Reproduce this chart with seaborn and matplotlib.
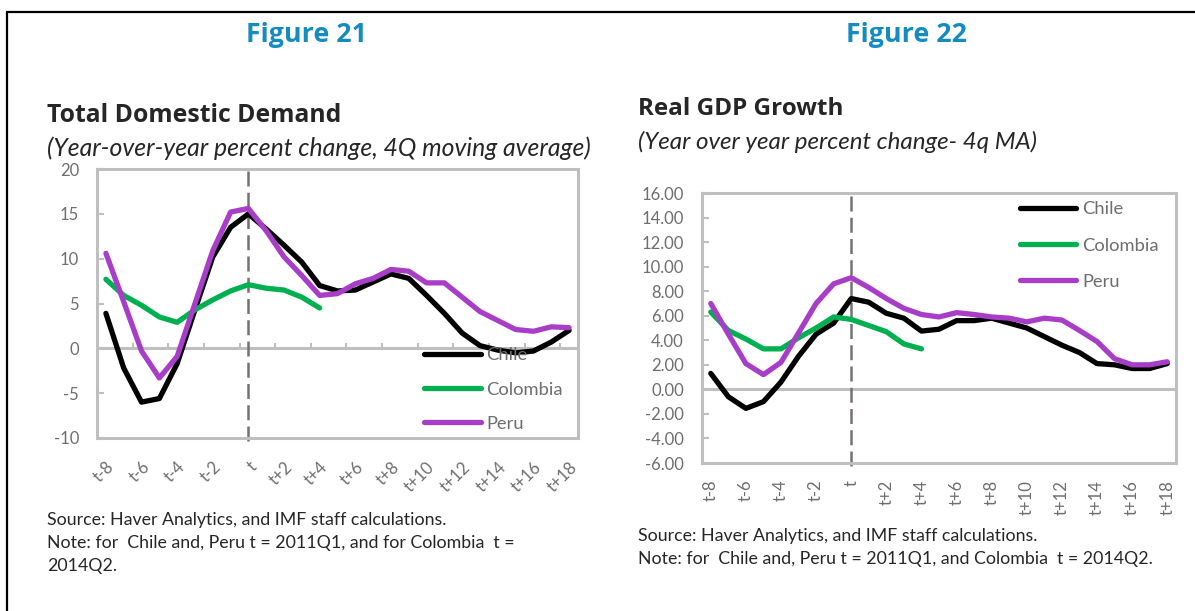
import matplotlib
matplotlib.use("Agg")
import matplotlib.pyplot as plt
from matplotlib.lines import Line2D
import numpy as np
import seaborn as sns

periods = ['t-8', 't-7', 't-6', 't-5', 't-4', 't-3', 't-2', 't-1', 't',
           't+1', 't+2', 't+3', 't+4', 't+5', 't+6', 't+7', 't+8', 't+9',
           't+10', 't+11', 't+12', 't+13', 't+14', 't+15', 't+16', 't+17', 't+18']

# Figure 21 - total domestic demand
chile_tdd = [3.9, -2.2, -6.0, -5.6, -1.7, 4.3, 10.2, 13.5, 15.0, 13.3, 11.5, 9.6, 7.0,
             6.4, 6.5, 7.4, 8.3, 7.8, 5.9, 3.9, 1.7, 0.3, -0.2, -0.5, -0.3, 0.7, 2.0]
colombia_tdd = [7.7, 5.9, 4.8, 3.5, 2.9, 4.3, 5.4, 6.4, 7.1, 6.7, 6.5, 5.7, 4.5]
peru_tdd = [10.6, 5.2, -0.3, -3.3, -0.9, 5.0, 10.9, 15.2, 15.6, 13.1, 10.2, 8.1, 5.9,
            6.1, 7.2, 7.8, 8.8, 8.6, 7.3, 7.3, 5.7, 4.1, 3.1, 2.1, 1.9, 2.4, 2.3]

# Figure 22 - real GDP growth
chile_gdp = [1.3, -0.6, -1.55, -1.0, 0.6, 2.7, 4.5, 5.4, 7.4, 7.1, 6.2, 5.8, 4.75,
             4.9, 5.6, 5.6, 5.8, 5.4, 5.0, 4.3, 3.6, 3.0, 2.1, 2.0, 1.7, 1.7, 2.1]
colombia_gdp = [6.3, 4.8, 4.1, 3.3, 3.3, 4.2, 5.0, 5.9, 5.7, 5.2, 4.7, 3.7, 3.3]
peru_gdp = [7.0, 4.5, 2.1, 1.2, 2.2, 4.6, 7.0, 8.6, 9.1, 8.3, 7.4, 6.6, 6.1,
            5.9, 6.25, 6.1, 5.9, 5.8, 5.5, 5.8, 5.65, 4.8, 3.9, 2.5, 2.0, 2.0, 2.25]

countries = ['Chile', 'Colombia', 'Peru']
colors = {'Chile': '#000000', 'Colombia': '#00B050', 'Peru': '#A83EC8'}

sns.set_style('white')
plt.rcParams['font.family'] = ['Lato', 'DejaVu Sans']

GRAY = '#BFBFBF'
TXT = '#6E6E6E'

fig = plt.figure(figsize=(11.95, 6.11), dpi=100)
W, H = 1195, 611


def px_axes(x0, y0, x1, y1):
    return fig.add_axes([x0 / W, 1 - y1 / H, (x1 - x0) / W, (y1 - y0) / H])


def draw(ax, series, ylim, step, fmt, leg_anchor, spacing):
    for name, vals in zip(countries, series):
        sns.lineplot(x=np.arange(len(vals)), y=vals, ax=ax, color=colors[name],
                     lw=3.8, label=name, solid_capstyle='round', solid_joinstyle='round')
    ax.set_xlim(-0.5, len(periods) - 0.5)
    ax.set_ylim(*ylim)
    ax.set_yticks(np.arange(ylim[0], ylim[1] + step / 2, step))
    ax.yaxis.set_major_formatter(matplotlib.ticker.FormatStrFormatter(fmt))
    pos = np.arange(0, len(periods), 2)
    ax.set_xticks(pos)
    ax.set_xticklabels([periods[i] for i in pos])
    for s in ax.spines.values():
        s.set_color(GRAY)
        s.set_linewidth(2.2)
    ax.axhline(0, color=GRAY, lw=2.2, zorder=1)
    ax.axvline(periods.index('t'), ymin=-0.01, ymax=1.0, color='#767171', lw=1.8,
               dashes=(6, 2.5), clip_on=False, zorder=1)
    ax.tick_params(axis='y', direction='in', length=5, width=1.5, color=GRAY,
                   labelsize=12, labelcolor=TXT, pad=13, left=True)
    ax.tick_params(axis='x', length=0, labelsize=12, labelcolor=TXT)
    ax.set_xlabel('')
    ax.set_ylabel('')
    leg = ax.legend(loc='center left', bbox_to_anchor=leg_anchor, frameon=False,
                    fontsize=13.2, handlelength=3.1, handletextpad=0.3,
                    labelspacing=spacing, borderpad=0, borderaxespad=0)
    for t in leg.get_texts():
        t.set_color(TXT)
    for l in leg.get_lines():
        l.set_linewidth(3.8)


ax1 = px_axes(97, 169, 578, 438)
draw(ax1, [chile_tdd, colombia_tdd, peru_tdd], (-10, 20), 5, '%d', (0.68, 0.18), 1.0)
ax1.vlines(np.arange(1.5, len(periods) - 1, 2), 0, 0.6, color=GRAY, lw=1.5, zorder=1)
for lab in ax1.get_xticklabels():
    lab.set_rotation(45)
    lab.set_ha('right')
    lab.set_va('top')
    lab.set_rotation_mode('anchor')
ax1.tick_params(axis='x', pad=15)

ax2 = px_axes(702, 193, 1176, 463)
draw(ax2, [chile_gdp, colombia_gdp, peru_gdp], (-6, 16), 2, '%.2f', (0.67, 0.805), 1.1)
for lab in ax2.get_xticklabels():
    lab.set_rotation(90)
ax2.tick_params(axis='x', pad=12)

blue = '#168BC0'
head = ['Open Sans', 'DejaVu Sans']
fig.text(306 / W, 1 - 35 / H, 'Figure 21', ha='center', va='center', color=blue,
         fontsize=19.3, fontweight='bold', family=head)
fig.text(906 / W, 1 - 35 / H, 'Figure 22', ha='center', va='center', color=blue,
         fontsize=19.3, fontweight='bold', family=head)

fig.text(47 / W, 1 - 115 / H, 'Total Domestic Demand', ha='left', va='center',
         fontsize=17.8, fontweight='bold', family=head)
fig.text(47 / W, 1 - 148 / H, '(Year-over-year percent change, 4Q moving average)',
         ha='left', va='center', fontsize=17.8, style='italic')
fig.text(638 / W, 1 - 109 / H, 'Real GDP Growth', ha='left', va='center',
         fontsize=17.5, fontweight='bold', family=head)
fig.text(638 / W, 1 - 142 / H, '(Year over year percent change- 4q MA)',
         ha='left', va='center', fontsize=17.4, style='italic')

fs = 12.8
fig.text(47 / W, 1 - 520 / H, 'Source: Haver Analytics, and IMF staff calculations.',
         ha='left', va='center', fontsize=fs)
fig.text(47 / W, 1 - 543 / H, 'Note: for  Chile and, Peru t = 2011Q1, and for Colombia  t =',
         ha='left', va='center', fontsize=fs)
fig.text(47 / W, 1 - 566 / H, '2014Q2.', ha='left', va='center', fontsize=fs)
fig.text(638 / W, 1 - 536 / H, 'Source: Haver Analytics, and IMF staff calculations.',
         ha='left', va='center', fontsize=fs)
fig.text(638 / W, 1 - 559 / H, 'Note: for  Chile and, Peru t = 2011Q1, and Colombia  t = 2014Q2.',
         ha='left', va='center', fontsize=fs)

# outer frame (top and left edges only)
fig.add_artist(Line2D([7 / W, 1], [1 - 12 / H, 1 - 12 / H], color='black', lw=1.6))
fig.add_artist(Line2D([7 / W, 7 / W], [0, 1 - 12 / H], color='black', lw=1.6))

fig.savefig('out.png', dpi=100)
